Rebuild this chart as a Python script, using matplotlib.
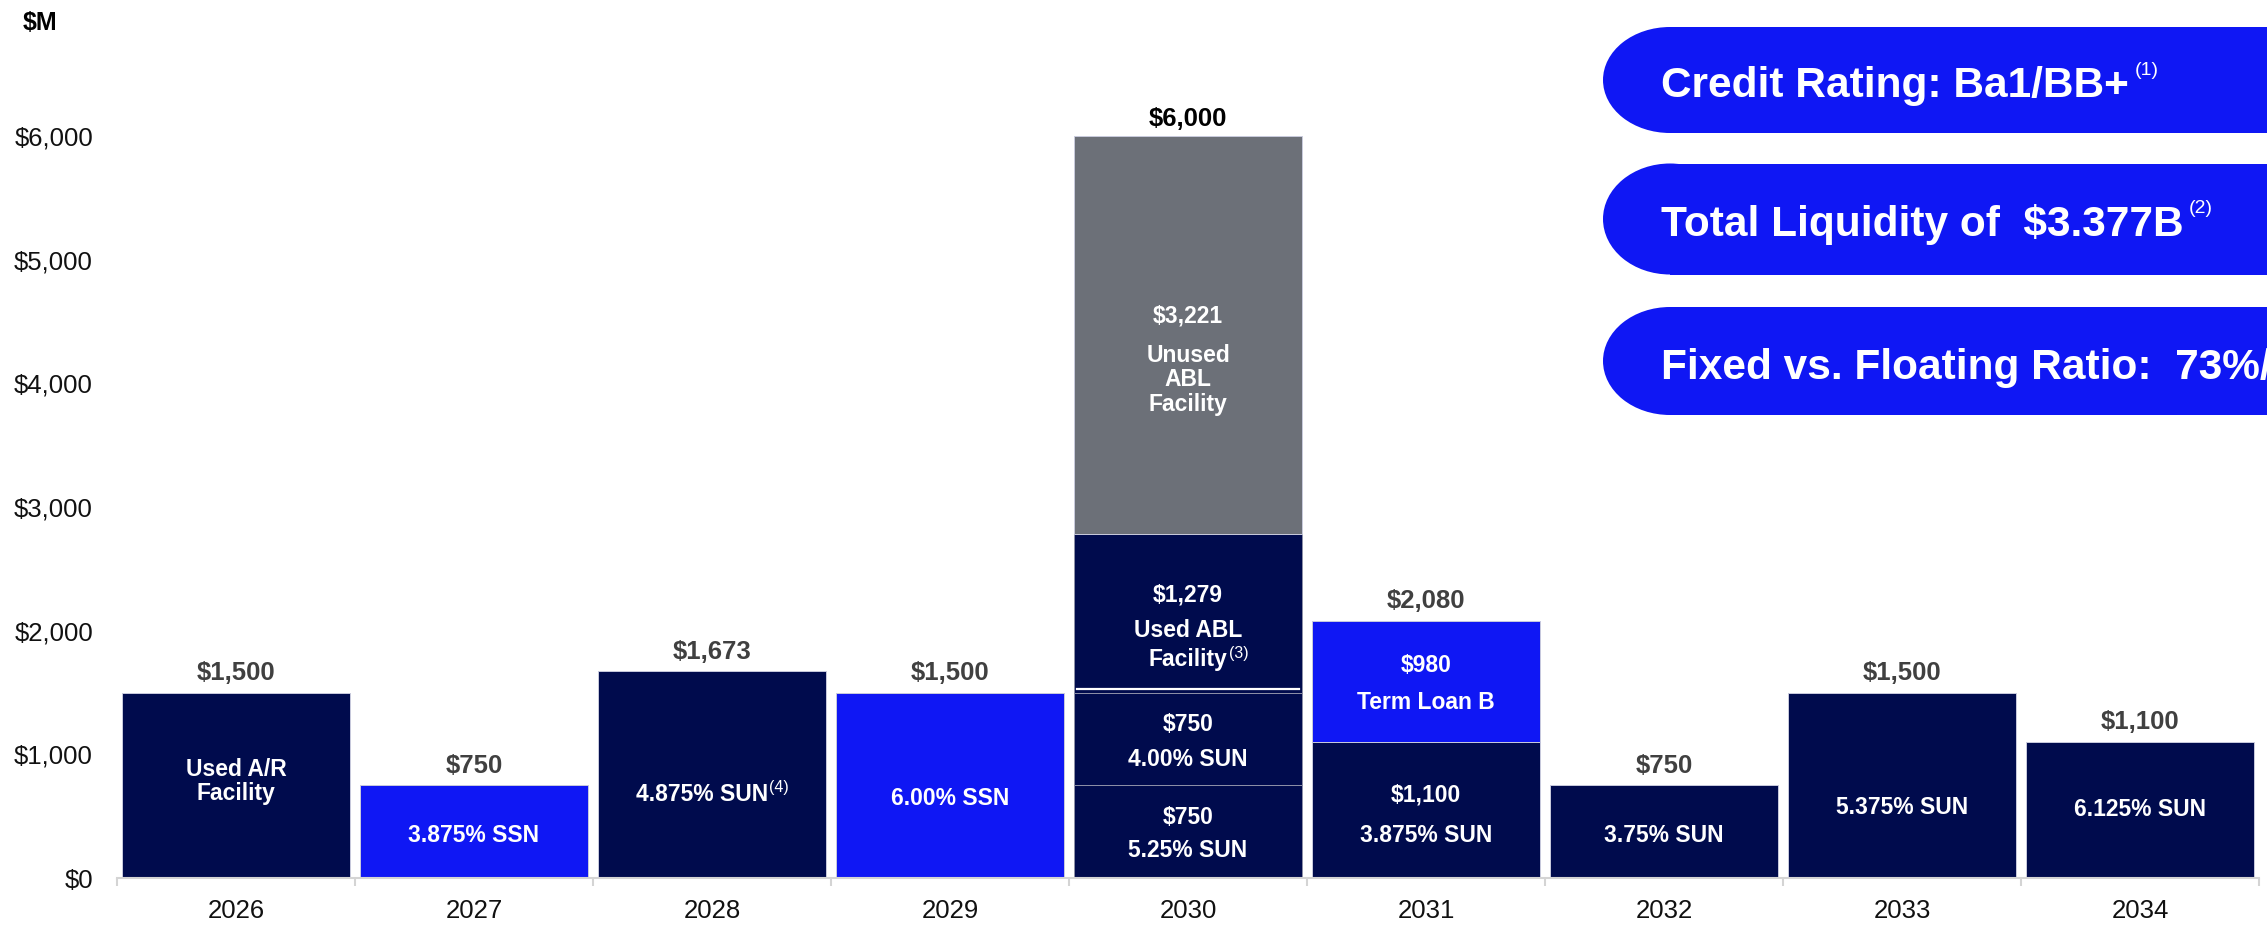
import matplotlib
matplotlib.use("Agg")
import numpy as np
import matplotlib.pyplot as plt
import matplotlib.transforms as mtransforms
from matplotlib.patches import Ellipse, Rectangle

plt.rcParams["font.family"] = ["Liberation Sans", "DejaVu Sans"]
plt.rcParams["text.parse_math"] = False

# ---- data -------------------------------------------------------------
years = ["2026", "2027", "2028", "2029", "2030", "2031", "2032", "2033", "2034"]

# stacked segments (bottom to top within each year)
seg_year = [0, 1, 2, 3, 4, 4, 4, 4, 5, 5, 6, 7, 8]
seg_value = [1500, 750, 1673, 1500, 750, 750, 1279, 3221, 1100, 980, 750, 1500, 1100]
seg_kind = ["navy", "blue", "navy", "blue", "navy", "navy", "navy", "gray",
            "navy", "blue", "navy", "navy", "navy"]
seg_text = [
    ["Used A/R", "Facility"],
    ["3.875% SSN"],
    ["4.875% SUN"],
    ["6.00% SSN"],
    ["$750", "5.25% SUN"],
    ["$750", "4.00% SUN"],
    ["$1,279", "Used ABL", "Facility"],
    ["$3,221", "Unused", "ABL", "Facility"],
    ["$1,100", "3.875% SUN"],
    ["$980", "Term Loan B"],
    ["3.75% SUN"],
    ["5.375% SUN"],
    ["6.125% SUN"],
]
# footnote markers attached to a given (segment, line)
seg_notes = {(2, 0): "(4)", (6, 2): "(3)"}

y_ticks = [0, 1000, 2000, 3000, 4000, 5000, 6000]
y_tick_labels = ["$0", "$1,000", "$2,000", "$3,000", "$4,000", "$5,000", "$6,000"]

badge_text = ["Credit Rating: Ba1/BB+", "Total Liquidity of  $3.377B",
              "Fixed vs. Floating Ratio:  73%/27%"]
badge_notes = ["(1)", "(2)", None]

# ---- style ------------------------------------------------------------
COLORS = {"navy": "#000B4D", "blue": "#0F17F4", "gray": "#6C7078"}
LABEL_GRAY = "#404040"
AXIS_GRAY = "#D4D4D4"
PT = 72 / 100  # pixels -> points at dpi 100

# vertical placement of the lines inside each segment (pixels from segment centre)
line_dy = [
    [-18, 6], [1], [17], [11], [-16.5, 16.5], [-17, 18], [-21, 15, 44],
    [-22, 18, 42, 67], [-17, 23], [-18.5, 18.5], [1], [20], [-3],
]
line_dx = {2: -10}

W, H = 2267, 926
fig = plt.figure(figsize=(W / 100, H / 100), dpi=100)
ax = fig.add_axes([117 / W, 48 / H, 2142 / W, 878 / H])
ax.set_xlim(-0.5, len(years) - 0.5)
ax.set_ylim(0, 7100)

bottoms = np.zeros(len(years))
bar_w = 0.958
for i, (yi, v, k) in enumerate(zip(seg_year, seg_value, seg_kind)):
    b = bottoms[yi]
    edge = "#8E91A8" if yi == 4 and k == "navy" else "#C9CBDD"
    ax.bar(yi, v, bottom=b, width=bar_w, color=COLORS[k], edgecolor=edge,
           linewidth=0.7, zorder=2)
    mid = b + v / 2
    for j, line in enumerate(seg_text[i]):
        dy = line_dy[i][j]
        dx = line_dx.get(i, 0)
        t = ax.annotate(line, xy=(yi, mid), xytext=(dx * PT, -dy * PT),
                        textcoords="offset points", ha="center",
                        va="center_baseline", color="white", fontsize=16.5,
                        fontweight="bold", zorder=4)
        note = seg_notes.get((i, j))
        if note:
            ax.annotate(note, xy=(1, 1), xycoords=t, xytext=(1, 1.5),
                        textcoords="offset points", ha="left", va="top",
                        color="white", fontsize=11.5, zorder=4)
    bottoms[yi] += v

# white separator between the used ABL and the 2030 notes
sep_tr = mtransforms.offset_copy(ax.transData, fig=fig, y=4, units="dots")
x2030 = years.index("2030")
ax.plot([x2030 - bar_w / 2 + 0.012, x2030 + bar_w / 2 - 0.012],
        [1500, 1500], color="white", lw=1.6, transform=sep_tr, zorder=3)

# totals above each bar
for xi, tot in enumerate(bottoms):
    is_max = tot == bottoms.max()
    ax.annotate(f"${int(tot):,}", xy=(xi, tot), xytext=(0, (20 if is_max else 22) * PT),
                textcoords="offset points", ha="center", va="center_baseline",
                fontsize=18.5, fontweight="bold",
                color="black" if is_max else LABEL_GRAY)

# axes styling
for s in ("left", "top", "right"):
    ax.spines[s].set_visible(False)
ax.spines["bottom"].set_color(AXIS_GRAY)
ax.spines["bottom"].set_linewidth(1.5)
ax.set_xticks(range(len(years)))
ax.set_xticklabels(years)
ax.set_xticks(np.arange(-0.5, len(years), 1), minor=True)
ax.tick_params(axis="x", which="major", length=0, pad=15, labelsize=18.5,
               labelcolor="#111111")
ax.tick_params(axis="x", which="minor", length=6, width=1.5, color=AXIS_GRAY,
               direction="out")
ax.set_yticks(y_ticks)
ax.set_yticklabels(y_tick_labels)
ax.tick_params(axis="y", length=0, pad=17.3, labelsize=18.5, labelcolor="#111111")
ax.set_facecolor("none")

fig.text(23 / W, 1 - 20 / H, "$M", ha="left", va="center_baseline",
         fontsize=18, fontweight="bold", color="black")

# ---- highlight badges on the right --------------------------------------
ov = fig.add_axes([0, 0, 1, 1], zorder=5)
ov.set_xlim(0, W)
ov.set_ylim(H, 0)
ov.axis("off")
ov.patch.set_visible(False)

badge_left, badge_rx = 1603, 67
badge_cy = [80, 219, 361]
badge_h = [106, 111, 108]
text_cy = [82, 220, 363]
for txt, note, cy, h, ty in zip(badge_text, badge_notes, badge_cy, badge_h, text_cy):
    cx = badge_left + badge_rx
    ov.add_patch(Ellipse((cx, cy), 2 * badge_rx, h, color=COLORS["blue"], lw=0))
    ov.add_patch(Rectangle((cx, cy - h / 2), W - cx + 50, h, color=COLORS["blue"], lw=0))
    t = ov.text(1661, ty, txt, ha="left", va="center_baseline", color="white",
                fontsize=30.5, fontweight="bold")
    if note:
        ov.annotate(note, xy=(1, 1), xycoords=t, xytext=(4, 3),
                    textcoords="offset points", ha="left", va="top",
                    color="white", fontsize=14)

fig.savefig("out.png", dpi=100)
